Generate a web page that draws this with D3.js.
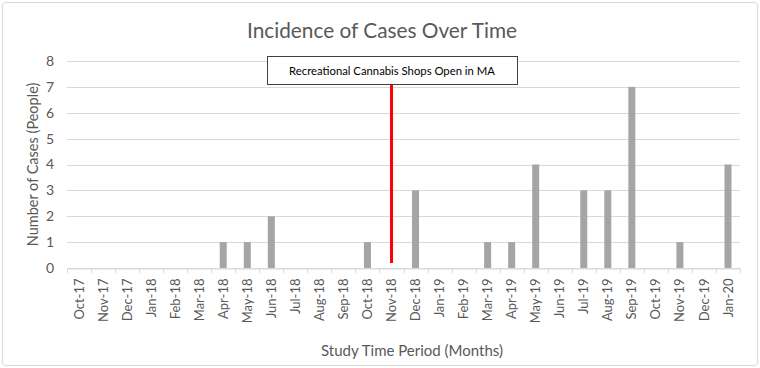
<!DOCTYPE html>
<html>
<head>
<meta charset="utf-8">
<script src="https://cdn.jsdelivr.net/npm/d3@7"></script>
<style>
  body { margin: 0; background: #fff; }
  text { font-family: Lato, "Open Sans", sans-serif; }
</style>
</head>
<body>
<div id="chart"></div>
<script>
// months of the study and case counts per month
const months = ["Oct-17","Nov-17","Dec-17","Jan-18","Feb-18","Mar-18","Apr-18","May-18","Jun-18",
  "Jul-18","Aug-18","Sep-18","Oct-18","Nov-18","Dec-18","Jan-19","Feb-19","Mar-19","Apr-19",
  "May-19","Jun-19","Jul-19","Aug-19","Sep-19","Oct-19","Nov-19","Dec-19","Jan-20"];
const cases = [0,0,0,0,0,0,1,1,2,0,0,0,1,0,3,0,0,1,1,4,0,3,3,7,0,1,0,4];
const yTicks = [0,1,2,3,4,5,6,7,8];
const markerMonth = "Nov-18";
const markerValue = 7;
const markerLabel = "Recreational Cannabis Shops Open in MA";

const width = 760, height = 368;
const margin = {top: 61, right: 20, bottom: 100, left: 67};
const visWidth = width - margin.left - margin.right;
const visHeight = height - margin.top - margin.bottom;

const svg = d3.select("#chart").append("svg")
    .attr("width", width)
    .attr("height", height);

// outer frame
svg.append("rect")
    .attr("x", 2.5).attr("y", 2.5)
    .attr("width", width - 5).attr("height", height - 5)
    .attr("rx", 3)
    .attr("fill", "#fff")
    .attr("stroke", "#d9d9d9");

svg.append("text")
    .attr("x", 382)
    .attr("y", 38)
    .attr("text-anchor", "middle")
    .attr("font-size", "20.8px")
    .attr("fill", "#595959")
    .text("Incidence of Cases Over Time");

const g = svg.append("g")
    .attr("transform", `translate(${margin.left}, ${margin.top})`);

const x = d3.scaleBand()
    .domain(months)
    .range([0, visWidth]);

const y = d3.scaleLinear()
    .domain([0, 8])
    .range([visHeight, 0]);

// gridlines
g.append("g")
  .selectAll("line")
  .data(yTicks)
  .join("line")
    .attr("x1", 0).attr("x2", visWidth)
    .attr("y1", d => Math.round(y(d)) + 0.5)
    .attr("y2", d => Math.round(y(d)) + 0.5)
    .attr("stroke", "#d9d9d9");

// y tick labels
g.append("g")
  .selectAll("text")
  .data(yTicks)
  .join("text")
    .attr("x", -13)
    .attr("y", d => y(d))
    .attr("dy", "0.35em")
    .attr("text-anchor", "end")
    .attr("font-size", "14px")
    .attr("fill", "#595959")
    .text(d => d);

// bars
const barW = 7;
g.selectAll("rect.bar")
  .data(months.map((m, i) => ({month: m, value: cases[i]})).filter(d => d.value > 0))
  .join("rect")
    .attr("class", "bar")
    .attr("x", d => x(d.month) + x.bandwidth() / 2 - barW / 2)
    .attr("y", d => y(d.value))
    .attr("width", barW)
    .attr("height", d => y(0) - y(d.value))
    .attr("fill", "#a5a5a5");

// x axis
const xAxis = d3.axisBottom(x).tickSize(0).tickPadding(10);
const xg = g.append("g")
    .attr("transform", `translate(0, ${Math.round(visHeight) + 0.5})`)
    .call(xAxis);
xg.select(".domain").attr("stroke", "#d9d9d9");
xg.selectAll("text")
    .attr("transform", "rotate(-90)")
    .attr("text-anchor", "end")
    .attr("x", -10)
    .attr("y", 0)
    .attr("dy", "0.35em")
    .attr("font-family", "Lato, 'Open Sans', sans-serif")
    .attr("font-size", "13px")
    .attr("fill", "#595959");

// tick marks between categories
xg.append("g")
  .selectAll("line")
  .data(months.concat(["end"]))
  .join("line")
    .attr("x1", (d, i) => Math.round(i * x.step()) + 0.5)
    .attr("x2", (d, i) => Math.round(i * x.step()) + 0.5)
    .attr("y1", 0).attr("y2", 5)
    .attr("stroke", "#d9d9d9");

// axis titles
svg.append("text")
    .attr("x", 412)
    .attr("y", 356)
    .attr("text-anchor", "middle")
    .attr("font-size", "15px")
    .attr("fill", "#595959")
    .text("Study Time Period (Months)");

svg.append("text")
    .attr("transform", `translate(33, ${margin.top + visHeight / 2}) rotate(-90)`)
    .attr("text-anchor", "middle")
    .attr("dy", "0.35em")
    .attr("font-size", "14.5px")
    .attr("fill", "#595959")
    .text("Number of Cases (People)");

// marker line and label box
const mx = x(markerMonth) + x.bandwidth() / 2;
g.append("line")
    .attr("x1", mx).attr("x2", mx)
    .attr("y1", y(markerValue) - 3)
    .attr("y2", y(0) - 5)
    .attr("stroke", "red")
    .attr("stroke-width", 3);

const boxX = 267 - margin.left, boxY = 56 - margin.top;
g.append("rect")
    .attr("x", boxX + 0.5).attr("y", boxY + 0.5)
    .attr("width", 250).attr("height", 28)
    .attr("fill", "#fff")
    .attr("stroke", "#404040");
g.append("text")
    .attr("x", boxX + 125)
    .attr("y", boxY + 15)
    .attr("dy", "0.35em")
    .attr("text-anchor", "middle")
    .attr("font-size", "11.3px")
    .attr("fill", "#000")
    .text(markerLabel);
</script>
</body>
</html>
